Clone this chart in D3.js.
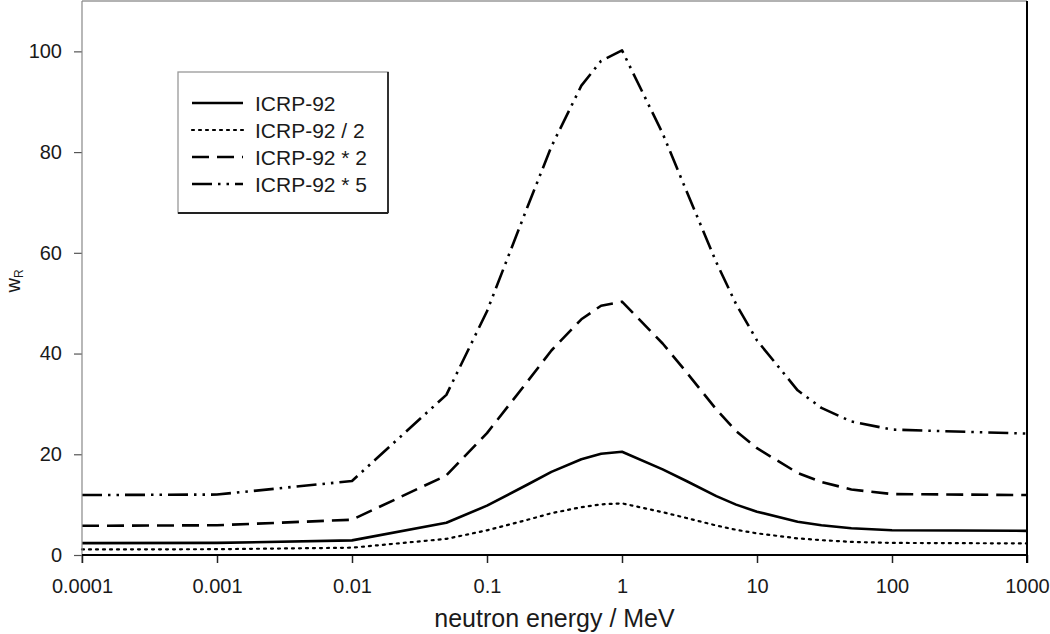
<!DOCTYPE html>
<html>
<head>
<meta charset="utf-8">
<script src="https://cdn.jsdelivr.net/npm/d3@7/dist/d3.min.js"></script>
<style>
  html, body { margin: 0; padding: 0; background: #fff; }
  svg { display: block; }
  text { font-family: "Liberation Sans", Arial, Helvetica, sans-serif; fill: #1a1a1a; }
</style>
</head>
<body>
<svg id="chart" width="1050" height="634"></svg>
<script>
// ---- data ----
const energies = [0.0001, 0.001, 0.01, 0.05, 0.1, 0.2, 0.3, 0.5, 0.7, 1, 2, 3, 5, 7, 10, 20, 30, 50, 100, 1000];
const icrp92      = [2.35, 2.4, 2.9, 6.4, 9.8, 14.0, 16.5, 19.0, 20.1, 20.5, 17.0, 14.7, 11.7, 10.0, 8.6, 6.6, 5.9, 5.3, 4.9, 4.8];
const icrp92Half  = [1.1, 1.15, 1.45, 3.2, 4.9, 7.0, 8.3, 9.5, 10.05, 10.25, 8.5, 7.35, 5.85, 5.0, 4.3, 3.3, 2.95, 2.6, 2.4, 2.3];
const icrp92Twice = [5.8, 5.9, 7.0, 15.8, 24.2, 34.5, 40.6, 46.8, 49.5, 50.3, 42.0, 36.3, 28.9, 24.6, 21.2, 16.3, 14.5, 13.0, 12.1, 11.9];
const icrp92Five  = [11.9, 12.0, 14.7, 31.8, 48.4, 69.2, 81.1, 93.2, 98.1, 100.2, 83.7, 72.3, 58.1, 49.8, 42.6, 32.7, 29.2, 26.5, 24.9, 24.1];
const seriesNames = ["ICRP-92", "ICRP-92 / 2", "ICRP-92 * 2", "ICRP-92 * 5"];
const xTickValues = [0.0001, 0.001, 0.01, 0.1, 1, 10, 100, 1000];
const xTickLabels = ["0.0001", "0.001", "0.01", "0.1", "1", "10", "100", "1000"];
const yTickValues = [0, 20, 40, 60, 80, 100];

// ---- layout ----
const svg = d3.select("#chart");
const pLeft = 82, pRight = 1027, pTop = 1, pBottom = 555;

const x = d3.scaleLog().domain([0.0001, 1000]).range([pLeft, pRight]);
const y = d3.scaleLinear().domain([0, 110]).range([pBottom, pTop]);

const styles = [
  { dash: null, width: 2.6 },
  { dash: "2,5", width: 2.2 },
  { dash: "17,8", width: 2.6 },
  { dash: "20,6,2.5,6,2.5,6", width: 2.6 }
];
const allSeries = [icrp92, icrp92Half, icrp92Twice, icrp92Five];

// frame: top gray
svg.append("line").attr("x1", pLeft).attr("x2", pRight).attr("y1", pTop).attr("y2", pTop)
  .attr("stroke", "#999").attr("stroke-width", 1.5);

// lines
const line = d3.line().x((d) => x(d[0])).y((d) => y(d[1]));
allSeries.forEach((vals, i) => {
  const data = energies.map((e, j) => [e, vals[j]]);
  svg.append("path").datum(data)
    .attr("d", line)
    .attr("fill", "none")
    .attr("stroke", "#000")
    .attr("stroke-width", styles[i].width)
    .attr("stroke-linejoin", "round")
    .attr("stroke-linecap", styles[i].dash === "2,5" ? "round" : "butt")
    .attr("stroke-dasharray", styles[i].dash);
});

// y axis
const yAxis = d3.axisLeft(y).tickValues(yTickValues).tickSize(8).tickPadding(12).tickFormat(d3.format("d"));
const gy = svg.append("g").attr("transform", `translate(${pLeft},0)`).call(yAxis);
gy.select(".domain").remove();
gy.append("line").attr("x1", 0).attr("x2", 0).attr("y1", pTop).attr("y2", pBottom + 8)
  .attr("stroke", "#888").attr("stroke-width", 1.2);
gy.selectAll(".tick line").attr("stroke", "#555").attr("stroke-width", 1.2);
gy.selectAll(".tick text").attr("font-size", 20).attr("fill", "#1a1a1a")
  .attr("font-family", "'Liberation Sans', Arial, sans-serif");

// x axis
const xAxis = d3.axisBottom(x).tickValues(xTickValues).tickSize(8).tickPadding(16)
  .tickFormat((d, i) => xTickLabels[i]);
const gx = svg.append("g").attr("transform", `translate(0,${pBottom})`).call(xAxis);
gx.select(".domain").remove();
gx.append("line").attr("x1", pLeft).attr("x2", pRight).attr("y1", 0).attr("y2", 0)
  .attr("stroke", "#000").attr("stroke-width", 2);
gx.selectAll(".tick line").attr("stroke", "#222").attr("stroke-width", 1.5);
gx.selectAll(".tick text").attr("font-size", 20).attr("fill", "#1a1a1a")
  .attr("font-family", "'Liberation Sans', Arial, sans-serif");

// right axis line
svg.append("line").attr("x1", pRight).attr("x2", pRight).attr("y1", pTop).attr("y2", pBottom + 8)
  .attr("stroke", "#000").attr("stroke-width", 2);

// axis titles
svg.append("text").attr("x", (pLeft + pRight) / 2).attr("y", 627)
  .attr("text-anchor", "middle").attr("font-size", 25).text("neutron energy / MeV");

const yt = svg.append("text")
  .attr("transform", "translate(20,281) rotate(-90)")
  .attr("text-anchor", "middle").attr("font-size", 20);
yt.append("tspan").text("w");
yt.append("tspan").attr("font-size", 12).attr("dy", 3).text("R");

// legend
const lg = svg.append("g");
const lx0 = 178, ly0 = 72, lx1 = 388, ly1 = 213;
lg.append("rect").attr("x", lx0).attr("y", ly0).attr("width", lx1 - lx0).attr("height", ly1 - ly0)
  .attr("fill", "#fff").attr("stroke", "#999").attr("stroke-width", 1.3);
lg.append("line").attr("x1", lx1).attr("x2", lx1).attr("y1", ly0).attr("y2", ly1)
  .attr("stroke", "#222").attr("stroke-width", 1.8);
lg.append("line").attr("x1", lx0).attr("x2", lx1).attr("y1", ly1).attr("y2", ly1)
  .attr("stroke", "#222").attr("stroke-width", 1.8);
const rowY = [103, 130, 157, 184];
seriesNames.forEach((name, i) => {
  lg.append("line").attr("x1", 192).attr("x2", 243).attr("y1", rowY[i]).attr("y2", rowY[i])
    .attr("stroke", "#000").attr("stroke-width", styles[i].width)
    .attr("stroke-linecap", styles[i].dash === "2,5" ? "round" : "butt")
    .attr("stroke-dasharray", styles[i].dash);
  lg.append("text").attr("x", 255).attr("y", rowY[i] + 7.5).attr("font-size", 21).text(name);
});
</script>
</body>
</html>
